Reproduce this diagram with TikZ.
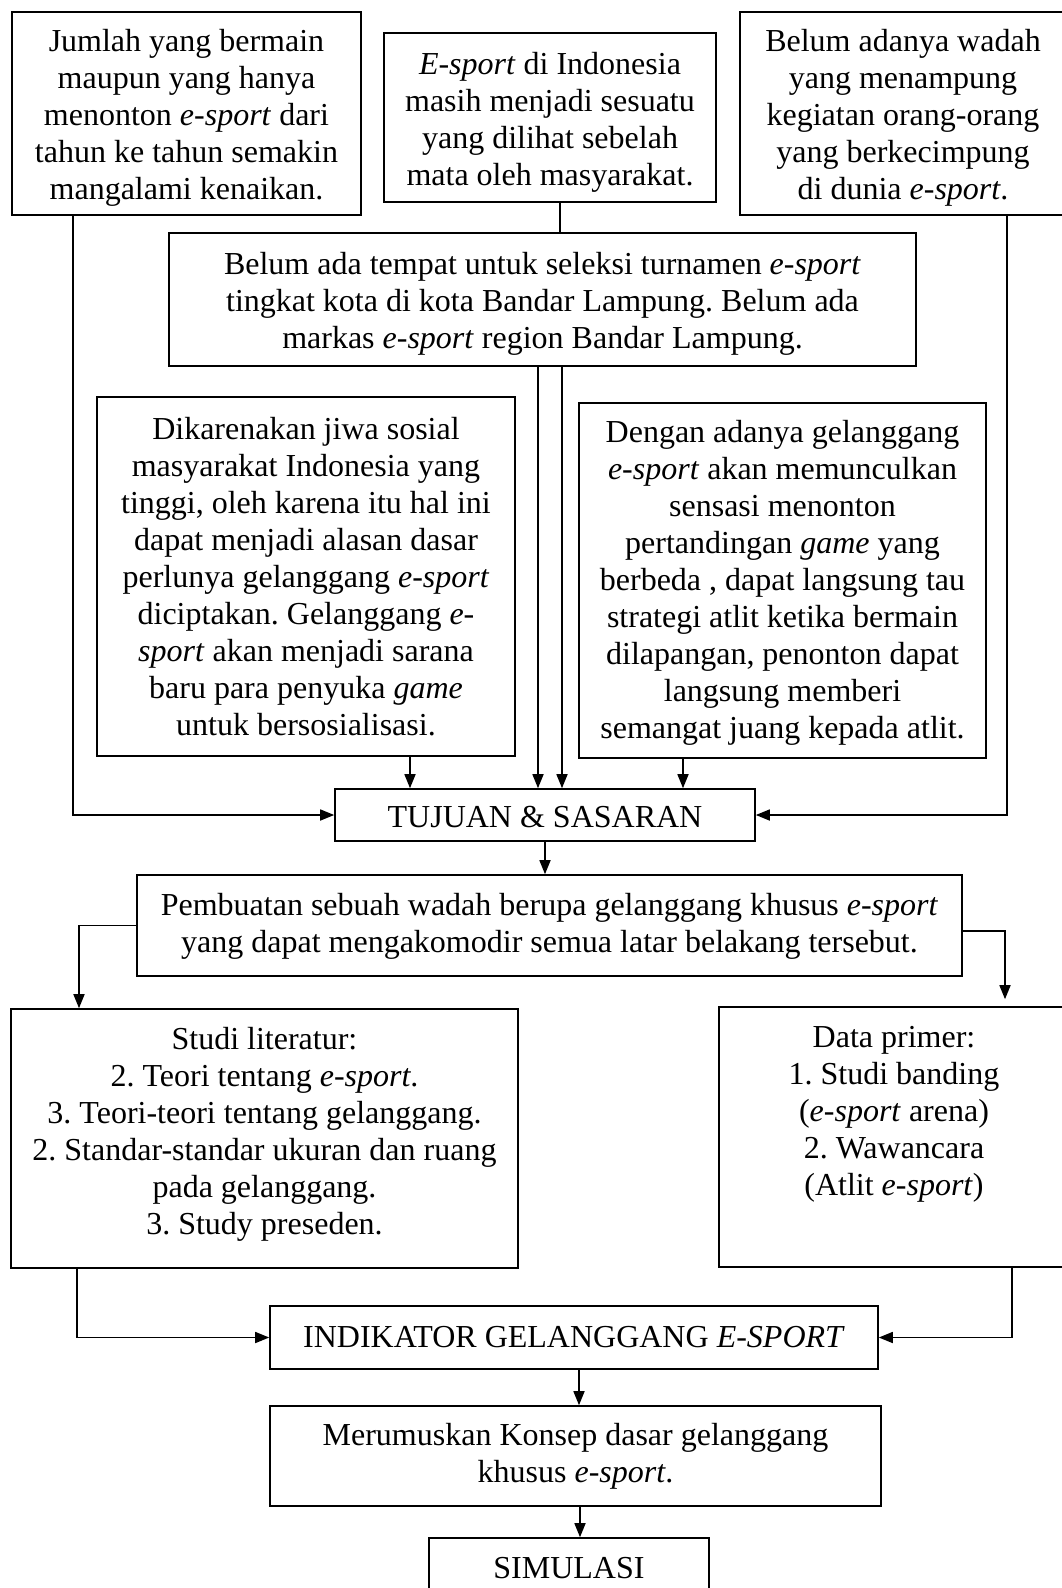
\documentclass[tikz,border=0pt]{standalone}
\usepackage{fontspec}
\setmainfont{Liberation Serif}
\usetikzlibrary{positioning, arrows.meta}
\newcommand\turun[1]{\rule{0pt}{#1}}
\tikzset{
  kotak/.style = {draw, line width=1.6pt, align=center, inner sep=0pt},
  teks/.style = {align=center, inner sep=0pt},
  panah/.style = {line width=1.6pt, -{Triangle[length=14pt, width=11pt]}},
  garis/.style = {line width=1.6pt}
}

\begin{document}
\frenchspacing
\begin{tikzpicture}[x=1pt, y=-1pt, font=\fontsize{32}{37}\selectfont]
  \useasboundingbox (0,0) rectangle (1062,1588);
  \node[kotak, minimum width=349pt, minimum height=203pt] (jumlah) at (186.5,113.5)
    {\turun{31pt}Jumlah yang bermain\\ maupun yang hanya\\ menonton \textit{e-sport} dari\\ tahun ke tahun semakin\\ mangalami kenaikan.};
  \node[kotak, minimum width=332pt, minimum height=169pt] (esport) at (550,117.5)
    {\turun{31pt}\textit{E-sport} di Indonesia\\ masih menjadi sesuatu\\ yang dilihat sebelah\\ mata oleh masyarakat.};
  \node[kotak, minimum width=326pt, minimum height=203pt] (wadah) at (903,113.5)
    {\turun{31pt}Belum adanya wadah\\ yang menampung\\ kegiatan orang-orang\\ yang berkecimpung\\ di dunia \textit{e-sport}.};
  \node[kotak, minimum width=747pt, minimum height=133pt] (tempat) at (542.5,299.5)
    {\turun{31pt}Belum ada tempat untuk seleksi turnamen \textit{e-sport}\\ tingkat kota di kota Bandar Lampung. Belum ada\\ markas \textit{e-sport} region Bandar Lampung.};
  \node[kotak, minimum width=418pt, minimum height=359pt] (sosial) at (306,576.5)
    {Dikarenakan jiwa sosial\\ masyarakat Indonesia yang\\ tinggi, oleh karena itu hal ini\\ dapat menjadi alasan dasar\\ perlunya gelanggang \textit{e-sport}\\ diciptakan. Gelanggang \textit{e-}\\ \textit{sport} akan menjadi sarana\\ baru para penyuka \textit{game}\\ untuk bersosialisasi.};
  \node[kotak, minimum width=407pt, minimum height=355pt] (sensasi) at (782.5,580.5)
    {\turun{27pt}Dengan adanya gelanggang\\ \textit{e-sport} akan memunculkan\\ sensasi menonton\\ pertandingan \textit{game} yang\\ berbeda , dapat langsung tau\\ strategi atlit ketika bermain\\ dilapangan, penonton dapat\\ langsung memberi\\ semangat juang kepada atlit.};
  \node[kotak, minimum width=420pt, minimum height=52pt] (tujuan) at (545,815)
    {\turun{25pt}TUJUAN \& SASARAN};
  \node[kotak, minimum width=825pt, minimum height=101pt] (buat) at (549.5,925.5)
    {\turun{24pt}Pembuatan sebuah wadah berupa gelanggang khusus \textit{e-sport}\\ yang dapat mengakomodir semua latar belakang tersebut.};
  \node[kotak, minimum width=507pt, minimum height=259pt] (studi) at (264.5,1138.5) {};
  \node[teks, below=19pt of studi.north] (studiteks)
    {Studi literatur:\\ 2. Teori tentang \textit{e-sport}.\\ 3. Teori-teori tentang gelanggang.\\ 2. Standar-standar ukuran dan ruang\\ pada gelanggang.\\ 3. Study preseden.};
  \node[kotak, minimum width=350pt, minimum height=260pt] (primer) at (894,1137) {};
  \node[teks, below=20pt of primer.north] (primerteks)
    {Data primer:\\ 1. Studi banding\\ (\textit{e-sport} arena)\\ 2. Wawancara\\ (Atlit \textit{e-sport})};
  \node[kotak, minimum width=608pt, minimum height=63pt] (indikator) at (574,1337.5)
    {INDIKATOR GELANGGANG \textit{E-SPORT}};
  \node[kotak, minimum width=611pt, minimum height=100pt] (konsep) at (575.5,1456)
    {Merumuskan Konsep dasar gelanggang\\ khusus \textit{e-sport}.};
  \node[kotak, minimum width=280pt, minimum height=60pt] (simulasi) at (569,1568)
    {SIMULASI};

  \draw[panah] ([xshift=-113.5pt]jumlah.south) |- (tujuan.west);
  \draw[panah] ([xshift=104pt]wadah.south) |- (tujuan.east);
  \draw[garis] ([xshift=10pt]esport.south) -- ([xshift=10pt]esport.south |- tempat.north);
  \draw[panah] ([xshift=-4.5pt]tempat.south) -- ([xshift=-4.5pt]tempat.south |- tujuan.north);
  \draw[panah] ([xshift=19.5pt]tempat.south) -- ([xshift=19.5pt]tempat.south |- tujuan.north);
  \draw[panah] ([xshift=104pt]sosial.south) -- ([xshift=104pt]sosial.south |- tujuan.north);
  \draw[panah] ([xshift=-99.5pt]sensasi.south) -- ([xshift=-99.5pt]sensasi.south |- tujuan.north);
  \draw[panah] (tujuan.south) -- (tujuan.south |- buat.north);
  \draw[panah] (buat.west) -| ([xshift=-185.5pt]studi.north);
  \draw[panah] ([yshift=-5.5pt]buat.east) -| ([xshift=111pt, yshift=7pt]primer.north);
  \draw[panah] ([xshift=-187.5pt]studi.south) |- (indikator.west);
  \draw[panah] ([xshift=118pt]primer.south) |- (indikator.east);
  \draw[panah] ([xshift=5pt]indikator.south) -- ([xshift=5pt]indikator.south |- konsep.north);
  \draw[panah] ([xshift=4.5pt]konsep.south) -- ([xshift=4.5pt]konsep.south |- simulasi.north);
\end{tikzpicture}
\end{document}
